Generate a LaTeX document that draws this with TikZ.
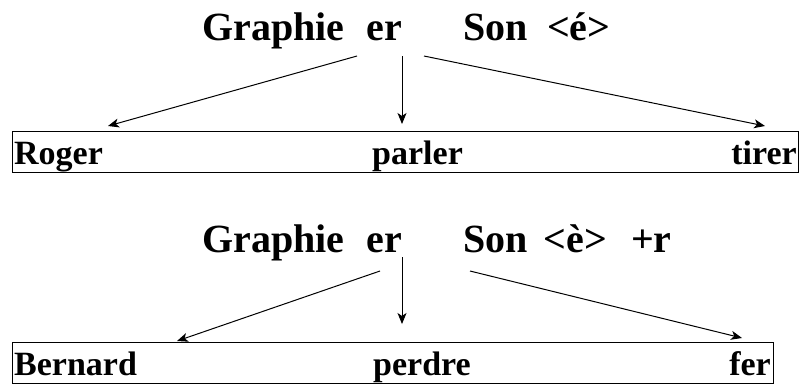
\documentclass[tikz,border=0pt]{standalone}
\usepackage{fontspec}
\setmainfont{Liberation Serif}
\usetikzlibrary{arrows.meta}
\begin{document}
\begin{tikzpicture}[x=1pt,y=-1pt,
  title/.style={inner sep=0pt,anchor=base west,font=\bfseries\fontsize{40}{48}\selectfont},
  word/.style={inner sep=0pt,anchor=base west,font=\bfseries\fontsize{34}{40}\selectfont},
  wordr/.style={word,anchor=base east},
  frame/.style={draw=black,line width=1pt,inner sep=0pt,anchor=north west},
  conn/.style={line width=1pt,-{Stealth[length=11pt,width=9pt,inset=3pt]}}]
\useasboundingbox (0,0) rectangle (800,384);
% ---- first group ----
\node[title] (g1) at (202,40) {Graphie\hspace{21.8pt}er};
\node[title] (s1) at (463,40) {Son\hspace{19.5pt}\textless é\textgreater};
\node[frame,minimum width=786pt,minimum height=41pt] (b1) at (12,131) {};
\node[word] (w11) at (14,164) {Roger};
\node[word] (w12) at (372,164) {parler};
\node[wordr] (w13) at (797,164) {tirer};
\coordinate (a11) at (357,56);
\coordinate (a12) at (402,56);
\coordinate (a13) at (424,56);
\coordinate (t11) at (108,126);
\coordinate (t12) at (402,124);
\coordinate (t13) at (765,126);
\draw[conn] (a11) -- (t11);
\draw[conn] (a12) -- (t12);
\draw[conn] (a13) -- (t13);
% ---- second group ----
\node[title] (g2) at (202,252) {Graphie\hspace{21.8pt}er};
\node[title] (s2) at (463,252) {Son\hspace{16pt}\textless è\textgreater\hspace{24pt}+r};
\node[frame,minimum width=761pt,minimum height=41pt] (b2) at (12,342) {};
\node[word] (w21) at (14,375) {Bernard};
\node[word] (w22) at (373,375) {perdre};
\node[wordr] (w23) at (771,375) {fer};
\coordinate (a21) at (380,271);
\coordinate (a22) at (402,257);
\coordinate (a23) at (470,271);
\coordinate (t21) at (177,341);
\coordinate (t22) at (402,324);
\coordinate (t23) at (742,338);
\draw[conn] (a21) -- (t21);
\draw[conn] (a22) -- (t22);
\draw[conn] (a23) -- (t23);
\end{tikzpicture}
\end{document}
